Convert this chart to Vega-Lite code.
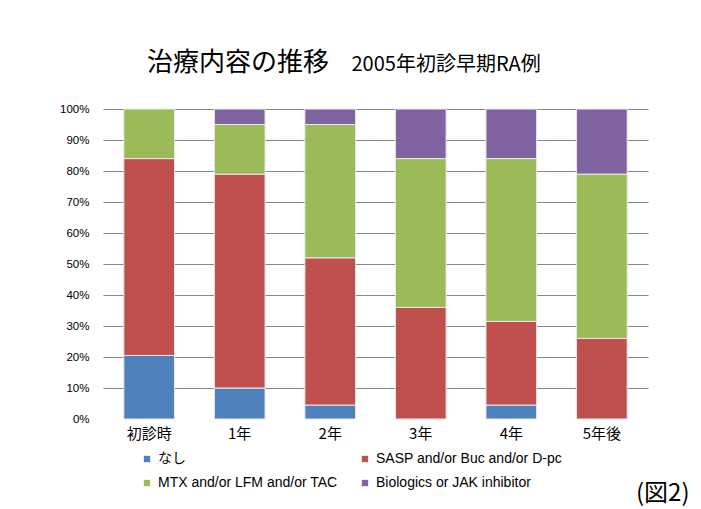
{
  "$schema": "https://vega.github.io/schema/vega-lite/v6.json",
  "autosize": {"type": "none"},
  "padding": {"left": 103, "top": 109, "right": 53, "bottom": 90},
  "width": 545,
  "height": 310,
  "background": "#ffffff",
  "config": {"view": {"stroke": null}},
  "title": {
    "text": "治療内容の推移",
    "subtitle": "⁠　　　　　　　　　　  2005年初診早期RA例",
    "anchor": "start",
    "frame": "group",
    "align": "left",
    "dx": 44,
    "offset": 27,
    "font": "Noto Sans CJK JP",
    "fontSize": 26,
    "fontWeight": "normal",
    "color": "#000000",
    "subtitleFont": "Noto Sans CJK JP",
    "subtitleFontSize": 20,
    "subtitleColor": "#000000",
    "subtitlePadding": -21
  },
  "data": {
    "values": [
      {"period": "初診時", "treatment": "なし", "value": 20.5, "k": 1},
      {"period": "初診時", "treatment": "SASP and/or Buc and/or D-pc", "value": 63.5, "k": 2},
      {"period": "初診時", "treatment": "MTX and/or LFM and/or TAC", "value": 16, "k": 3},
      {"period": "1年", "treatment": "なし", "value": 10, "k": 1},
      {"period": "1年", "treatment": "SASP and/or Buc and/or D-pc", "value": 69, "k": 2},
      {"period": "1年", "treatment": "MTX and/or LFM and/or TAC", "value": 16, "k": 3},
      {"period": "1年", "treatment": "Biologics or JAK inhibitor", "value": 5, "k": 4},
      {"period": "2年", "treatment": "なし", "value": 4.5, "k": 1},
      {"period": "2年", "treatment": "SASP and/or Buc and/or D-pc", "value": 47.5, "k": 2},
      {"period": "2年", "treatment": "MTX and/or LFM and/or TAC", "value": 43, "k": 3},
      {"period": "2年", "treatment": "Biologics or JAK inhibitor", "value": 5, "k": 4},
      {"period": "3年", "treatment": "SASP and/or Buc and/or D-pc", "value": 36, "k": 2},
      {"period": "3年", "treatment": "MTX and/or LFM and/or TAC", "value": 48, "k": 3},
      {"period": "3年", "treatment": "Biologics or JAK inhibitor", "value": 16, "k": 4},
      {"period": "4年", "treatment": "なし", "value": 4.5, "k": 1},
      {"period": "4年", "treatment": "SASP and/or Buc and/or D-pc", "value": 27, "k": 2},
      {"period": "4年", "treatment": "MTX and/or LFM and/or TAC", "value": 52.5, "k": 3},
      {"period": "4年", "treatment": "Biologics or JAK inhibitor", "value": 16, "k": 4},
      {"period": "5年後", "treatment": "SASP and/or Buc and/or D-pc", "value": 26, "k": 2},
      {"period": "5年後", "treatment": "MTX and/or LFM and/or TAC", "value": 53, "k": 3},
      {"period": "5年後", "treatment": "Biologics or JAK inhibitor", "value": 21, "k": 4}
    ]
  },
  "mark": {"type": "bar", "stroke": "#eaeaea", "strokeWidth": 1},
  "encoding": {
    "x": {
      "field": "period",
      "type": "nominal",
      "sort": ["初診時", "1年", "2年", "3年", "4年", "5年後"],
      "scale": {"paddingInner": 0.44, "paddingOuter": 0.23},
      "axis": {
        "title": "(図2)",
        "titleFont": "Noto Sans CJK JP",
        "titleFontSize": 24,
        "titleFontWeight": "normal",
        "titleColor": "#000000",
        "titleAlign": "right",
        "titleBaseline": "middle",
        "titleX": 586,
        "titleY": 74,
        "labelAngle": 0,
        "labelFont": "Noto Sans CJK JP",
        "labelFontSize": 15,
        "labelColor": "#000000",
        "labelPadding": 7,
        "domain": false,
        "ticks": false,
        "grid": false
      }
    },
    "y": {
      "field": "value",
      "type": "quantitative",
      "stack": "normalize",
      "scale": {"domain": [0, 1]},
      "axis": {
        "title": null,
        "format": ".0%",
        "values": [0, 0.1, 0.2, 0.3, 0.4, 0.5, 0.6, 0.7, 0.8, 0.9, 1],
        "labelFont": "Liberation Sans",
        "labelFontSize": 11.5,
        "labelColor": "#000000",
        "labelPadding": 14,
        "domain": false,
        "ticks": false,
        "grid": true,
        "gridColor": "#868686",
        "gridWidth": 1,
        "gridOpacity": {"condition": {"test": "datum.value === 0", "value": 0}, "value": 1}
      }
    },
    "color": {
      "field": "treatment",
      "type": "nominal",
      "scale": {
        "domain": ["なし", "SASP and/or Buc and/or D-pc", "MTX and/or LFM and/or TAC", "Biologics or JAK inhibitor"],
        "range": ["#4F81BD", "#C0504D", "#9BBB59", "#8064A2"]
      },
      "legend": {
        "title": null,
        "orient": "none",
        "legendX": 37,
        "legendY": 343,
        "direction": "horizontal",
        "columns": 2,
        "padding": 0,
        "columnPadding": 20,
        "rowPadding": 10,
        "symbolType": "square",
        "symbolSize": 40,
        "symbolStrokeWidth": 0,
        "labelOffset": 4,
        "labelFont": "Liberation Sans, Noto Sans CJK JP",
        "labelFontSize": 14,
        "labelColor": "#000000",
        "labelLimit": 400
      }
    },
    "order": {"field": "k", "type": "quantitative", "sort": "ascending"}
  }
}
